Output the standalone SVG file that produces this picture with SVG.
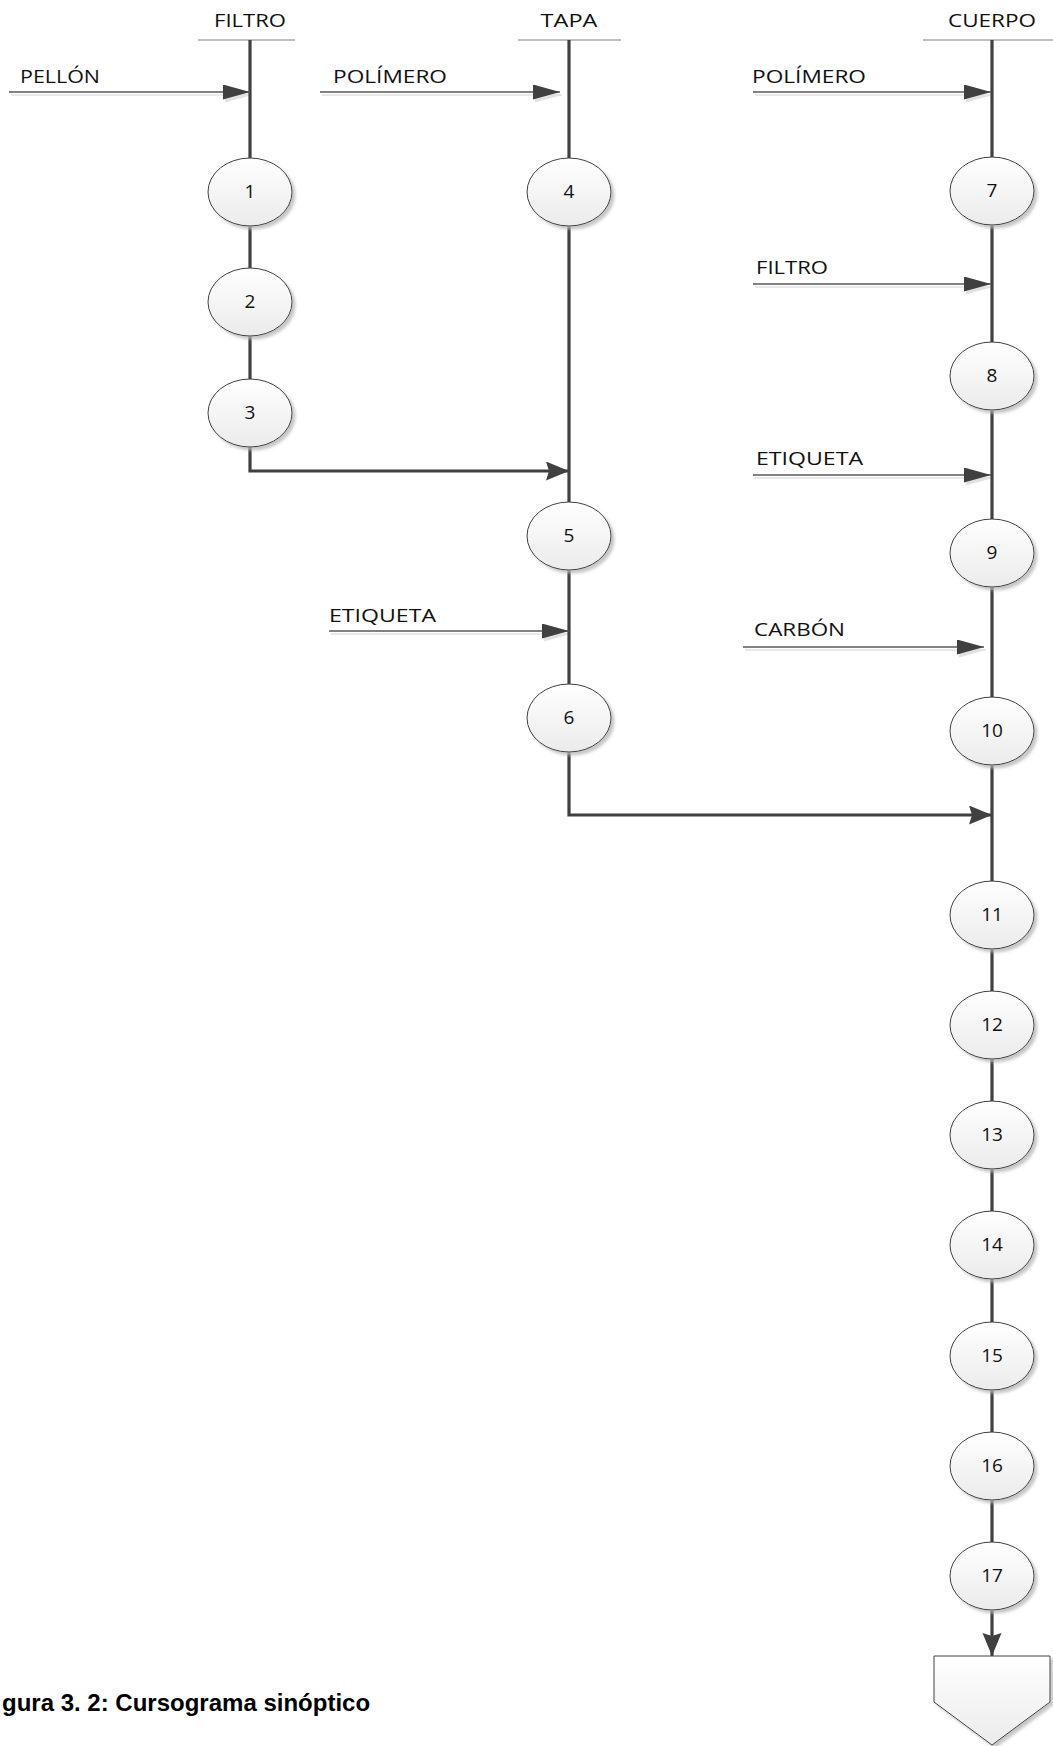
<svg xmlns="http://www.w3.org/2000/svg" width="1053" height="1746" viewBox="0 0 1053 1746">
<defs>
<style>
.hdr{stroke:#7f7f7f;stroke-width:1.2;fill:none}
.main{stroke:#404040;stroke-width:3.2;fill:none}
.inp{stroke:#595959;stroke-width:1.5;fill:none}
.inpsh{stroke:#e2e2e2;stroke-width:1.5;fill:none}
.lbl{font-family:"Open Sans","DejaVu Sans",sans-serif;font-size:18px;fill:#111}
.num{font-family:"Open Sans","DejaVu Sans",sans-serif;font-size:19px;fill:#111;text-anchor:middle}
.op{fill:url(#g);stroke:#404040;stroke-width:1;filter:url(#sh)}
.cap{font-family:"Liberation Sans",Arial,sans-serif;font-size:24px;font-weight:bold;fill:#000}
</style>
<linearGradient id="g" x1="0" y1="0" x2="0" y2="1">
<stop offset="0" stop-color="#ffffff"/>
<stop offset="1" stop-color="#ebebeb"/>
</linearGradient>
<filter id="sh" x="-20%" y="-20%" width="150%" height="150%">
<feDropShadow dx="3" dy="3" stdDeviation="1.5" flood-color="#b8b8b8" flood-opacity="0.8"/>
</filter>
<marker id="ai" markerUnits="userSpaceOnUse" markerWidth="28" markerHeight="16" refX="27" refY="7.5" orient="auto">
<path d="M0,0 L27,7.5 L0,15 z" fill="#404040"/>
</marker>
<marker id="ais" markerUnits="userSpaceOnUse" markerWidth="28" markerHeight="16" refX="27" refY="7.5" orient="auto">
<path d="M0,0 L27,7.5 L0,15 z" fill="#e2e2e2"/>
</marker>
<marker id="am" markerUnits="userSpaceOnUse" markerWidth="24" markerHeight="20" refX="23" refY="9.5" orient="auto">
<path d="M0,0 L23,9.5 L0,19 L3,9.5 z" fill="#404040"/>
</marker>
</defs>
<rect width="1053" height="1746" fill="#ffffff"/>

<g id="headers">
<line class="hdr" x1="198" y1="40" x2="295" y2="40"/>
<text class="lbl" x="250" y="27" text-anchor="middle" textLength="72" lengthAdjust="spacingAndGlyphs">FILTRO</text>
<line class="hdr" x1="518" y1="40" x2="621" y2="40"/>
<text class="lbl" x="569" y="27" text-anchor="middle" textLength="57" lengthAdjust="spacingAndGlyphs">TAPA</text>
<line class="hdr" x1="923" y1="40" x2="1053" y2="40"/>
<text class="lbl" x="992" y="27" text-anchor="middle" textLength="88" lengthAdjust="spacingAndGlyphs">CUERPO</text>
</g>

<g id="connectors">
<path class="inpsh" d="M11,95 H252" marker-end="url(#ais)"/>
<path class="inpsh" d="M322,95 H562" marker-end="url(#ais)"/>
<path class="inpsh" d="M331,634 H571" marker-end="url(#ais)"/>
<path class="inpsh" d="M755,95 H993" marker-end="url(#ais)"/>
<path class="inpsh" d="M755,287 H993" marker-end="url(#ais)"/>
<path class="inpsh" d="M755,478 H993" marker-end="url(#ais)"/>
<path class="inpsh" d="M745,650 H986" marker-end="url(#ais)"/>
<path class="main" d="M250,40 V158"/>
<path class="main" d="M250,226 V268"/>
<path class="main" d="M250,336 V379"/>
<path class="main" d="M250,447 V471 H569" marker-end="url(#am)"/>
<path class="main" d="M569,40 V158"/>
<path class="main" d="M569,226 V502"/>
<path class="main" d="M569,570 V684"/>
<path class="main" d="M569,752 V815 H992" marker-end="url(#am)"/>
<path class="main" d="M992,40 V1656" marker-end="url(#am)"/>
<path class="inp" d="M9,92 H250" marker-end="url(#ai)"/>
<path class="inp" d="M320,92 H560" marker-end="url(#ai)"/>
<path class="inp" d="M329,631 H569" marker-end="url(#ai)"/>
<path class="inp" d="M753,92 H991" marker-end="url(#ai)"/>
<path class="inp" d="M753,284 H991" marker-end="url(#ai)"/>
<path class="inp" d="M753,475 H991" marker-end="url(#ai)"/>
<path class="inp" d="M743,647 H984" marker-end="url(#ai)"/>
</g>

<g id="input-labels">
<text class="lbl" x="20" y="83" textLength="80" lengthAdjust="spacingAndGlyphs">PELLÓN</text>
<text class="lbl" x="333" y="83" textLength="114" lengthAdjust="spacingAndGlyphs">POLÍMERO</text>
<text class="lbl" x="329" y="622" textLength="107" lengthAdjust="spacingAndGlyphs">ETIQUETA</text>
<text class="lbl" x="752" y="83" textLength="114" lengthAdjust="spacingAndGlyphs">POLÍMERO</text>
<text class="lbl" x="756" y="274" textLength="72" lengthAdjust="spacingAndGlyphs">FILTRO</text>
<text class="lbl" x="756" y="465" textLength="107" lengthAdjust="spacingAndGlyphs">ETIQUETA</text>
<text class="lbl" x="754" y="636" textLength="91" lengthAdjust="spacingAndGlyphs">CARBÓN</text>
</g>

<g id="n1"><ellipse class="op" cx="250" cy="192" rx="42" ry="34"/><text class="num" x="250" y="198">1</text></g>
<g id="n2"><ellipse class="op" cx="250" cy="302" rx="42" ry="34"/><text class="num" x="250" y="308">2</text></g>
<g id="n3"><ellipse class="op" cx="250" cy="413" rx="42" ry="34"/><text class="num" x="250" y="419">3</text></g>
<g id="n4"><ellipse class="op" cx="569" cy="192" rx="42" ry="34"/><text class="num" x="569" y="198">4</text></g>
<g id="n5"><ellipse class="op" cx="569" cy="536" rx="42" ry="34"/><text class="num" x="569" y="542">5</text></g>
<g id="n6"><ellipse class="op" cx="569" cy="718" rx="42" ry="34"/><text class="num" x="569" y="724">6</text></g>
<g id="n7"><ellipse class="op" cx="992" cy="191" rx="42" ry="34"/><text class="num" x="992" y="197">7</text></g>
<g id="n8"><ellipse class="op" cx="992" cy="376" rx="42" ry="34"/><text class="num" x="992" y="382">8</text></g>
<g id="n9"><ellipse class="op" cx="992" cy="553" rx="42" ry="34"/><text class="num" x="992" y="559">9</text></g>
<g id="n10"><ellipse class="op" cx="992" cy="731" rx="42" ry="34"/><text class="num" x="992" y="737">10</text></g>
<g id="n11"><ellipse class="op" cx="992" cy="915" rx="42" ry="34"/><text class="num" x="992" y="921">11</text></g>
<g id="n12"><ellipse class="op" cx="992" cy="1025" rx="42" ry="34"/><text class="num" x="992" y="1031">12</text></g>
<g id="n13"><ellipse class="op" cx="992" cy="1135" rx="42" ry="34"/><text class="num" x="992" y="1141">13</text></g>
<g id="n14"><ellipse class="op" cx="992" cy="1245" rx="42" ry="34"/><text class="num" x="992" y="1251">14</text></g>
<g id="n15"><ellipse class="op" cx="992" cy="1356" rx="42" ry="34"/><text class="num" x="992" y="1362">15</text></g>
<g id="n16"><ellipse class="op" cx="992" cy="1466" rx="42" ry="34"/><text class="num" x="992" y="1472">16</text></g>
<g id="n17"><ellipse class="op" cx="992" cy="1576" rx="42" ry="34"/><text class="num" x="992" y="1582">17</text></g>

<g id="end">
<path class="op" d="M934,1656 H1050 V1702 L992,1745 L934,1702 Z"/>
</g>

<g id="caption">
<text class="cap" x="2" y="1711">gura 3. 2: Cursograma sinóptico</text>
</g>
</svg>
